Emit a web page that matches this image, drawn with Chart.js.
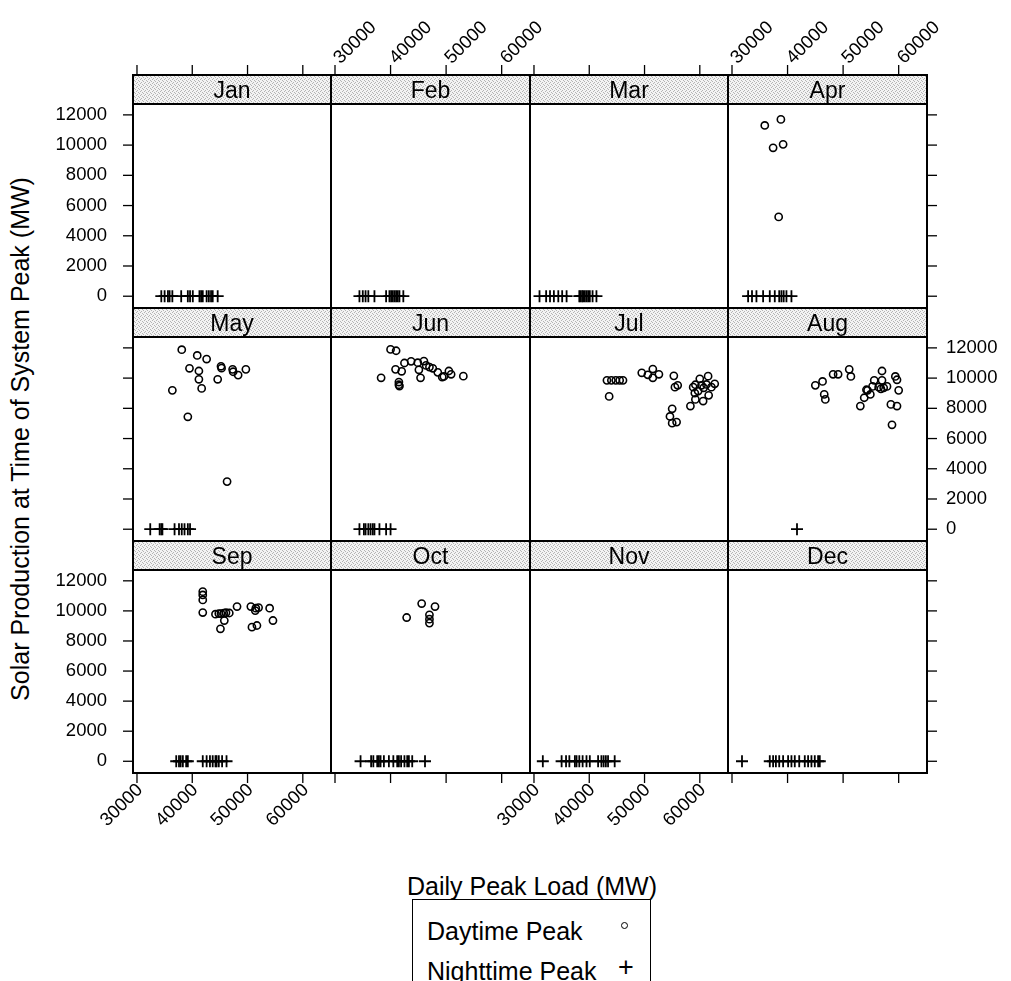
<!DOCTYPE html>
<html>
<head>
<meta charset="utf-8">
<script src="https://cdn.jsdelivr.net/npm/chart.js@4"></script>
<style>
  body { margin: 0; background: #fff; overflow: hidden; }
  #wrap { position: relative; width: 1011px; height: 981px; overflow: hidden; font-family: 'Liberation Sans', Arial, sans-serif; color: #000; }
  #wrap canvas { position: absolute; }
  .ttl { position: absolute; font-size: 25px; white-space: nowrap; line-height: 1; }
  #legend { position: absolute; left: 412px; top: 899px; width: 239px; height: 100px; border: 1.6px solid #000; box-sizing: border-box; }
  .lg-row { position: absolute; left: 14px; font-size: 25px; line-height: 1; white-space: nowrap; }
  .lg-dot { position: absolute; left: 208px; width: 5px; height: 5px; border: 1.6px solid #000; border-radius: 50%; }
  .lg-plus { position: absolute; left: 205px; font-size: 27px; line-height: 1; }
</style>
</head>
<body>
<div id="wrap">
  <div class="ttl" style="left:532px;top:874px;transform:translateX(-50%)">Daily Peak Load (MW)</div>
  <div class="ttl" style="left:20px;top:439px;transform:translate(-50%,-50%) rotate(-90deg)">Solar Production at Time of System Peak (MW)</div>
  <div id="legend">
    <div class="lg-row" style="top:19px">Daytime Peak</div>
    <div class="lg-dot" style="top:22px"></div>
    <div class="lg-row" style="top:59px">Nighttime Peak</div>
    <div class="lg-plus" style="top:54px">+</div>
  </div>
</div>
<script>
// ---- data ----
const months = ['Jan','Feb','Mar','Apr','May','Jun','Jul','Aug','Sep','Oct','Nov','Dec'];
const xTicks = [30000, 40000, 50000, 60000];
const yTicks = [0, 2000, 4000, 6000, 8000, 10000, 12000];
const nightSolar = 0; // every nighttime peak sits at 0 MW solar

// nighttime peaks: daily peak load (MW)
const janNight = [34400, 35000, 35600, 35900, 36400, 38000, 39200, 39600, 40100, 41300, 41600, 41900, 42600, 43000, 43400, 43700, 44600];
const febNight = [34400, 35000, 35500, 36000, 37100, 39200, 39800, 40100, 40400, 40700, 41000, 41300, 41600, 42300];
const marNight = [31000, 32200, 32900, 33600, 34400, 35100, 35900, 38200, 38400, 38700, 38900, 39200, 39500, 39800, 40100, 40600, 41300];
const aprNight = [32900, 33600, 34400, 35600, 36800, 37700, 38500, 38900, 39300, 39800, 40700];
const mayNight = [32400, 34100, 34400, 34600, 36800, 37600, 38100, 38600, 39200, 39600];
const junNight = [34400, 35200, 35500, 36000, 36400, 36800, 37100, 38000, 39200, 40000];
const julNight = [];
const augNight = [41700];
const sepNight = [37100, 37600, 37900, 38300, 38900, 39200, 41900, 42600, 43200, 43700, 44200, 44400, 44800, 45400, 46200];
const octNight = [34600, 36500, 36900, 37600, 37900, 38200, 38800, 39700, 40500, 41200, 41500, 41900, 42500, 43000, 43300, 43900, 46200];
const novNight = [31600, 35000, 35800, 36400, 37400, 37700, 38200, 38800, 39500, 40100, 41600, 42200, 42600, 43000, 43400, 44600];
const decNight = [31800, 36800, 37400, 37900, 38500, 39200, 40100, 40700, 41300, 42100, 43100, 43700, 44300, 44900, 45500, 45800];

// daytime peaks: [load MW, solar MW]
const janDay = [];
const febDay = [];
const marDay = [];
const aprDay = [[35900,11300],[38800,11700],[37400,9820],[39200,10050],[38400,5250]];
const mayDay = [[38100,11880],[40900,11500],[42600,11260],[39500,10650],[41200,10470],[45200,10780],[45300,10660],[47300,10580],[47400,10420],[48300,10200],[49700,10580],[41200,9920],[44600,9920],[41700,9320],[36400,9190],[39200,7440],[46300,3150]];
const junDay = [[40000,11900],[41000,11810],[42500,11000],[43700,11110],[44900,11020],[46000,11130],[46400,10840],[47000,10730],[47600,10650],[48500,10380],[49300,10070],[49600,10110],[50500,10470],[50900,10250],[53100,10130],[40900,10580],[42000,10450],[45100,10550],[38300,10020],[45400,10020],[41500,9740],[41500,9560],[41600,9470]];
const julDay = [[43200,9850],[44000,9850],[44800,9850],[45500,9850],[46100,9850],[43600,8790],[49500,10350],[50600,10220],[51500,10600],[51500,10020],[52600,10250],[55300,10150],[55500,9400],[56000,9520],[55000,7970],[54600,7460],[55000,7020],[55800,7090],[58800,9400],[59100,9010],[58300,8150],[59200,8590],[60600,8480],[60000,9950],[61500,10130],[62700,9620],[61600,8860],[60300,9520],[60700,9360],[59700,9140],[61200,9580],[62100,9400],[59200,9560]];
const augDay = [[45000,9520],[46300,9780],[46600,8920],[46800,8590],[48200,10250],[49100,10250],[51100,10580],[51400,10110],[53100,8150],[53800,8700],[54400,9190],[54900,8920],[55600,9850],[55300,9450],[56400,9400],[56800,9290],[57300,9360],[57900,9450],[57000,10470],[57000,9850],[59400,10110],[59700,9890],[60000,9190],[58600,8260],[59700,8150],[58800,6910],[54200,9230]];
const sepDay = [[41900,11280],[41900,11060],[41900,10730],[41900,9890],[44200,9780],[44800,9820],[45200,9820],[45700,9850],[46100,9880],[46700,9860],[48100,10290],[45800,9360],[45100,8810],[50600,10290],[51500,10180],[52000,10220],[51400,10020],[54000,10180],[54600,9360],[50800,8920],[51700,9030]];
const octDay = [[42900,9560],[45600,10490],[48000,10290],[47000,9740],[47000,9450],[47000,9190]];
const novDay = [];
const decDay = [];

const dayByMonth = [janDay, febDay, marDay, aprDay, mayDay, junDay, julDay, augDay, sepDay, octDay, novDay, decDay];
const nightByMonth = [janNight, febNight, marNight, aprNight, mayNight, junNight, julNight, augNight, sepNight, octNight, novNight, decNight];

// ---- panel geometry ----
const X_MIN = 29280, X_MAX = 65100, Y_MIN = -780, Y_MAX = 12720;
const colEdges = [133, 331, 530, 728, 927];
const stripTops = [75, 308, 541];
const rowBottoms = [308, 541, 773];
const STRIP_H = 29;
const PAD = 90;
const TICK = 10;
const FONT = '"Liberation Sans", Arial, sans-serif';

function stripPattern(ctx) {
  const c = document.createElement('canvas');
  c.width = 4; c.height = 4;
  const g = c.getContext('2d');
  g.fillStyle = '#f3f3f3'; g.fillRect(0, 0, 4, 4);
  g.fillStyle = '#b4b4b4';
  [[0,0],[2,1],[1,2],[3,3]].forEach(([a,b]) => g.fillRect(a, b, 1, 1));
  return ctx.createPattern(c, 'repeat');
}

const latticePlugin = {
  id: 'lattice',
  afterDraw(chart, args, o) {
    const { ctx, chartArea: a, scales: { x, y } } = chart;
    const w = a.right - a.left;
    const sTop = a.top - STRIP_H;
    ctx.save();
    // strip
    ctx.fillStyle = stripPattern(ctx);
    ctx.fillRect(a.left, sTop, w, STRIP_H);
    ctx.strokeStyle = '#000';
    ctx.lineWidth = 2;
    ctx.strokeRect(a.left, sTop, w, STRIP_H);
    ctx.strokeRect(a.left, a.top, w, a.bottom - a.top);
    ctx.fillStyle = '#000';
    ctx.font = '23px ' + FONT;
    ctx.textAlign = 'center';
    ctx.textBaseline = 'middle';
    ctx.fillText(o.name, (a.left + a.right) / 2, sTop + STRIP_H / 2 + 2);

    // axes
    ctx.font = '18.5px ' + FONT;
    ctx.lineWidth = 1.3;
    const line = (x1, y1, x2, y2) => { ctx.beginPath(); ctx.moveTo(x1, y1); ctx.lineTo(x2, y2); ctx.stroke(); };
    if (o.row === 0) {
      xTicks.forEach(v => {
        const px = x.getPixelForValue(v);
        line(px, sTop, px, sTop - TICK);
        if (o.col % 2 === 1) {
          ctx.save();
          ctx.translate(px + 2, sTop - TICK - 4);
          ctx.rotate(-Math.PI / 4);
          ctx.textAlign = 'left'; ctx.textBaseline = 'middle';
          ctx.fillText(String(v), 0, 0);
          ctx.restore();
        }
      });
    }
    if (o.row === 2) {
      xTicks.forEach(v => {
        const px = x.getPixelForValue(v);
        line(px, a.bottom, px, a.bottom + TICK);
        if (o.col % 2 === 0) {
          ctx.save();
          ctx.translate(px + 3, a.bottom + TICK + 4);
          ctx.rotate(-Math.PI / 4);
          ctx.textAlign = 'right'; ctx.textBaseline = 'middle';
          ctx.fillText(String(v), 0, 0);
          ctx.restore();
        }
      });
    }
    if (o.col === 0) {
      yTicks.forEach(v => {
        const py = y.getPixelForValue(v);
        line(a.left, py, a.left - TICK, py);
        if (o.row % 2 === 0) {
          ctx.textAlign = 'right'; ctx.textBaseline = 'middle';
          ctx.fillText(String(v), a.left - TICK - 16, py);
        }
      });
    }
    if (o.col === 3) {
      yTicks.forEach(v => {
        const py = y.getPixelForValue(v);
        line(a.right, py, a.right + TICK, py);
        if (o.row % 2 === 1) {
          ctx.textAlign = 'left'; ctx.textBaseline = 'middle';
          ctx.fillText(String(v), a.right + TICK + 9, py);
        }
      });
    }
    ctx.restore();
  }
};

const wrap = document.getElementById('wrap');
months.forEach((name, i) => {
  const col = i % 4, row = Math.floor(i / 4);
  const left = colEdges[col], right = colEdges[col + 1];
  const sTop = stripTops[row], bottom = rowBottoms[row];
  const cv = document.createElement('canvas');
  cv.width = (right - left) + 2 * PAD;
  cv.height = (bottom - sTop) + 2 * PAD;
  cv.style.left = (left - PAD) + 'px';
  cv.style.top = (sTop - PAD) + 'px';
  wrap.appendChild(cv);

  new Chart(cv, {
    type: 'scatter',
    data: {
      datasets: [
        {
          label: 'Daytime Peak',
          data: dayByMonth[i].map(([load, solar]) => ({ x: load, y: solar })),
          pointStyle: 'circle', pointRadius: 3.6,
          pointBorderColor: '#000', pointBackgroundColor: 'rgba(0,0,0,0)', pointBorderWidth: 1.6
        },
        {
          label: 'Nighttime Peak',
          data: nightByMonth[i].map(load => ({ x: load, y: nightSolar })),
          pointStyle: 'cross', pointRadius: 6,
          pointBorderColor: '#000', pointBorderWidth: 1.8
        }
      ]
    },
    options: {
      responsive: false,
      animation: false,
      events: [],
      layout: { autoPadding: false, padding: { left: PAD, right: PAD, top: PAD + STRIP_H, bottom: PAD } },
      plugins: { legend: { display: false }, tooltip: { enabled: false }, lattice: { row, col, name } },
      scales: {
        x: { type: 'linear', min: X_MIN, max: X_MAX, display: false },
        y: { type: 'linear', min: Y_MIN, max: Y_MAX, display: false }
      }
    },
    plugins: [latticePlugin]
  });
});
</script>
</body>
</html>
